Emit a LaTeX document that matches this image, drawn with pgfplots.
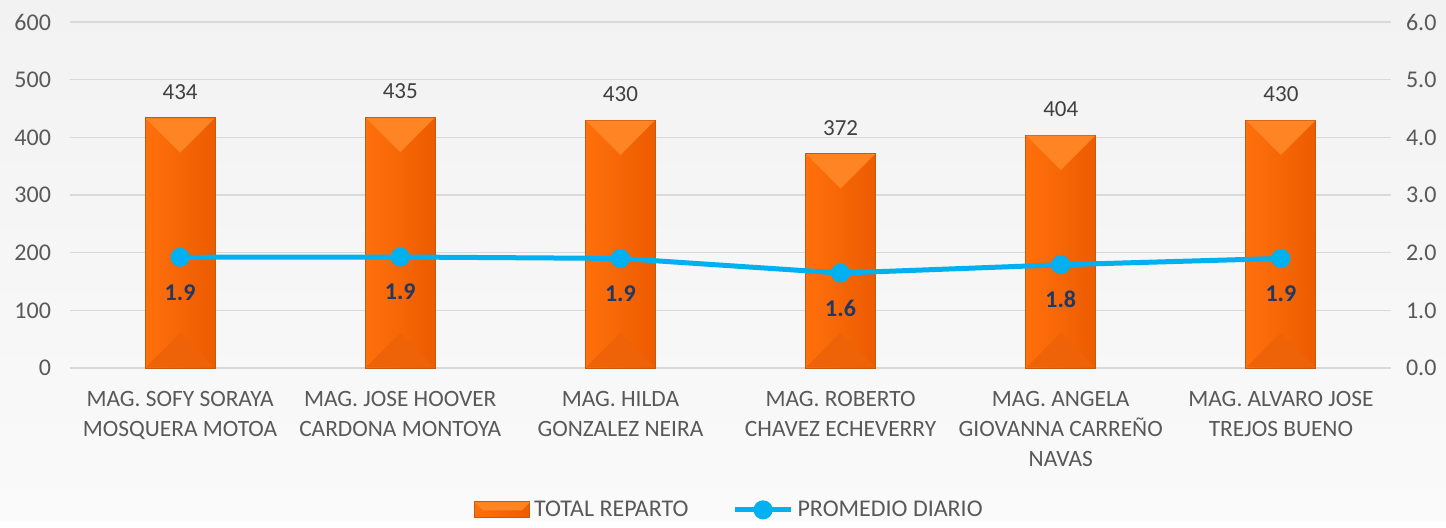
\documentclass[border=0pt]{standalone}
\usepackage{fontspec}
\setmainfont{Carlito}
\usepackage{pgfplots}
\pgfplotsset{compat=1.18}
\definecolor{bgtop}{HTML}{F2F2F2}
\definecolor{bgbot}{HTML}{FAFAFA}
\definecolor{gridgray}{HTML}{D9D9D9}
\definecolor{tickgray}{HTML}{595959}
\definecolor{labgray}{HTML}{404040}
\definecolor{barlight}{HTML}{FF700C}
\definecolor{bardark}{HTML}{EC5C00}
\definecolor{bartop}{HTML}{FF8424}
\definecolor{barbot}{HTML}{EE6208}
\definecolor{barborder}{HTML}{C55A11}
\definecolor{lineblue}{HTML}{00B0F0}
\definecolor{navy}{HTML}{1F3864}

% bevel triangles drawn as marks at the bar top / bar base
\pgfdeclareplotmark{bevtop}{%
  \pgfpathmoveto{\pgfqpoint{-17.2pt}{-0.3pt}}\pgfpathlineto{\pgfqpoint{17.2pt}{-0.3pt}}%
  \pgfpathlineto{\pgfqpoint{0pt}{-17.5pt}}\pgfpathclose\pgfusepathqfill}
\pgfdeclareplotmark{bevbot}{%
  \pgfpathmoveto{\pgfqpoint{-17.2pt}{0.3pt}}\pgfpathlineto{\pgfqpoint{17.2pt}{0.3pt}}%
  \pgfpathlineto{\pgfqpoint{0pt}{17.5pt}}\pgfpathclose\pgfusepathqfill}

\pgfplotsset{
  base/.style={at={(35pt,76pt)},anchor=south west,scale only axis,
    width=660.5pt,height=173pt,xmin=-0.5,xmax=5.5,
    axis line style={draw=none},major tick length=0pt,
    tick label style={font=\fontsize{12}{14}\selectfont,text=tickgray},
    /pgf/number format/assume math mode=true},
  onebar/.style={ybar,bar width=35pt,bar shift=0pt,draw=barborder,line width=0.5pt,
    left color=barlight,right color=bardark,
    nodes near coords,
    nodes near coords style={font=\fontsize{11.5}{13}\selectfont,text=labgray,yshift=5.5pt}}
}

\begin{document}
\begin{tikzpicture}
\shade[top color=bgtop,bottom color=bgbot] (0,0) rectangle (723pt,260pt);
\begin{axis}[base,ymin=0,ymax=600,ytick={0,100,...,600},
  ymajorgrids,grid style={gridgray,line width=0.7pt},
  xtick={0,...,5},
  xticklabels={{MAG. SOFY SORAYA\\MOSQUERA MOTOA},{MAG. JOSE HOOVER\\CARDONA MONTOYA},{MAG. HILDA\\GONZALEZ NEIRA},{MAG. ROBERTO\\CHAVEZ ECHEVERRY},{MAG. ANGELA\\GIOVANNA CARREÑO\\NAVAS},{MAG. ALVARO JOSE\\TREJOS BUENO}},
  xticklabel style={align=center,font=\fontsize{11.7}{15}\selectfont,yshift=-8pt},
  yticklabel style={xshift=-6pt}]
\addplot[onebar] coordinates {(0,434)};
\addplot[onebar] coordinates {(1,435)};
\addplot[onebar] coordinates {(2,430)};
\addplot[onebar] coordinates {(3,372)};
\addplot[onebar] coordinates {(4,404)};
\addplot[onebar] coordinates {(5,430)};
\addplot[only marks,mark=bevtop,mark options={fill=bartop,draw=none}]
  coordinates {(0,434) (1,435) (2,430) (3,372) (4,404) (5,430)};
\addplot[only marks,mark=bevbot,mark options={fill=barbot,draw=none}]
  coordinates {(0,0) (1,0) (2,0) (3,0) (4,0) (5,0)};
\end{axis}
\begin{axis}[base,ymin=0,ymax=6,ytick={0,...,6},
  axis y line*=right,axis x line=none,
  yticklabel style={xshift=4pt,/pgf/number format/fixed,/pgf/number format/fixed zerofill,/pgf/number format/precision=1},
  legend style={at={(0.5,-0.41)},anchor=center,draw=none,fill=none,
    legend columns=2,font=\fontsize{12}{14}\selectfont,text=tickgray,
    /tikz/every even column/.append style={column sep=20pt}}]
\addlegendimage{legend image code/.code={%
  \draw[draw=barborder,left color=barlight,right color=bardark] (0pt,-4pt) rectangle (27.5pt,4pt);
  \fill[bartop] (0.3pt,3.7pt) -- (27.2pt,3.7pt) -- (23.5pt,0pt) -- (4pt,0pt) -- cycle;}}
\addlegendentry{TOTAL REPARTO}
\addplot[color=lineblue,line width=2.5pt,mark=*,mark size=3.5pt,
  legend image code/.code={\draw[lineblue,line width=2.5pt] (0pt,0pt) -- (28pt,0pt);\fill[lineblue] (14pt,0pt) circle (3.5pt);},
  nodes near coords,point meta=y,
  nodes near coords style={anchor=center,yshift=-17.5pt,font=\fontsize{12}{14}\selectfont\bfseries,text=navy,
    /pgf/number format/fixed,/pgf/number format/fixed zerofill,/pgf/number format/precision=1}]
  coordinates {(0,1.92) (1,1.925) (2,1.90) (3,1.646) (4,1.79) (5,1.90)};
\addlegendentry{PROMEDIO DIARIO}
\end{axis}
\end{tikzpicture}
\end{document}
